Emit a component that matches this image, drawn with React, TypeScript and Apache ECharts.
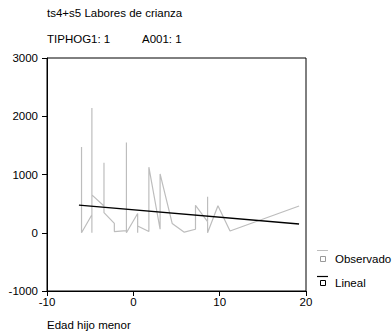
import React, { useEffect, useRef } from "react";
import * as echarts from "echarts";

const titleText = "ts4+s5 Labores de crianza";
const subtitleLeft = "TIPHOG1: 1";
const subtitleRight = "A001: 1";
const xAxisName = "Edad hijo menor";
const legendNames = ["Observado", "Lineal"];

const observedX = [
  -6.0, -6.0, -4.8, -4.8, -4.8, -4.8, -3.4, -3.4, -3.4, -2.2, -2.2, -0.8, -0.8, -0.8,
  0.5, 0.5, 0.5, 1.8, 1.8, 3.1, 3.1, 4.5, 5.9, 7.2, 7.2, 8.6, 8.6, 8.6, 9.8, 11.2, 19.2,
];
const observedY = [
  1470, 0, 310, 2140, 0, 650, 460, 1200, 345, 160, 20, 35, 1550, 0,
  330, 0, 115, 20, 1125, 60, 1010, 160, 10, 60, 470, 190, 620, 0, 465, 30, 460,
];
// Linear fit endpoints
const linearX = [-6.3, 19.2];
const linearY = [476, 150];

const yTicks = { min: -1000, max: 3000, interval: 1000 };
const xTicks = { min: -10, max: 20, interval: 10 };

const FONT = "Liberation Sans, Arial, sans-serif";
const FS = 11.5;

export default function App() {
  const ref = useRef<HTMLDivElement>(null);
  useEffect(() => {
    if (!ref.current) return;
    const chart = echarts.init(ref.current, undefined, { renderer: "svg" });
    chart.setOption({
      animation: false,
      backgroundColor: "#fff",
      textStyle: { fontFamily: FONT },
      grid: {
        left: 47,
        top: 58,
        width: 259,
        height: 233,
        show: true,
        borderColor: "#000",
        borderWidth: 1,
      },
      xAxis: {
        type: "value",
        min: xTicks.min,
        max: xTicks.max,
        interval: xTicks.interval,
        axisLine: { show: true, onZero: false, lineStyle: { color: "#000", width: 1 } },
        axisTick: { show: true, length: 5, lineStyle: { color: "#000" } },
        axisLabel: { color: "#000", fontSize: FS, margin: 5, fontFamily: FONT, formatter: (v: number) => String(v) },
        splitLine: { show: false },
      },
      yAxis: {
        type: "value",
        min: yTicks.min,
        max: yTicks.max,
        interval: yTicks.interval,
        axisLine: { show: true, onZero: false, lineStyle: { color: "#000", width: 1 } },
        axisTick: { show: true, length: 5, lineStyle: { color: "#000" } },
        axisLabel: { color: "#000", fontSize: FS, margin: 9, fontFamily: FONT, formatter: (v: number) => String(v) },
        splitLine: { show: false },
      },
      series: [
        {
          name: legendNames[0],
          type: "line",
          data: observedX.map((x, i) => [x, observedY[i]]),
          showSymbol: false,
          symbol: "none",
          lineStyle: { color: "#bdbdbd", width: 1.2 },
        },
        {
          name: legendNames[1],
          type: "line",
          data: linearX.map((x, i) => [x, linearY[i]]),
          showSymbol: false,
          symbol: "none",
          lineStyle: { color: "#000", width: 1.3 },
          z: 3,
        },
      ],
      graphic: [
        { type: "text", left: 47, top: 7, style: { text: titleText, fontSize: FS, fill: "#000", fontFamily: FONT } },
        { type: "text", left: 47, top: 33, style: { text: subtitleLeft, fontSize: FS, fill: "#000", fontFamily: FONT } },
        { type: "text", left: 142, top: 33, style: { text: subtitleRight, fontSize: FS, fill: "#000", fontFamily: FONT } },
        { type: "text", left: 47, top: 319, style: { text: xAxisName, fontSize: FS, fill: "#000", fontFamily: FONT } },
        // legend: Observado
        { type: "line", shape: { x1: 317, y1: 250.5, x2: 328, y2: 250.5 }, style: { stroke: "#bdbdbd", lineWidth: 1 } },
        { type: "rect", shape: { x: 320.5, y: 256.5, width: 5, height: 5 }, style: { fill: "#fff", stroke: "#999", lineWidth: 1 } },
        { type: "text", x: 335, y: 259, style: { text: legendNames[0], fontSize: FS, fill: "#000", fontFamily: FONT, verticalAlign: "middle" } },
        // legend: Lineal
        { type: "line", shape: { x1: 317, y1: 276.5, x2: 328, y2: 276.5 }, style: { stroke: "#000", lineWidth: 1.2 } },
        { type: "rect", shape: { x: 320.5, y: 280.5, width: 5, height: 5 }, style: { fill: "#fff", stroke: "#000", lineWidth: 1 } },
        { type: "text", x: 335, y: 283, style: { text: legendNames[1], fontSize: FS, fill: "#000", fontFamily: FONT, verticalAlign: "middle" } },
      ],
    });
    return () => chart.dispose();
  }, []);
  return <div ref={ref} style={{ width: 392, height: 333, position: "absolute", left: 0, top: 0 }} />;
}
